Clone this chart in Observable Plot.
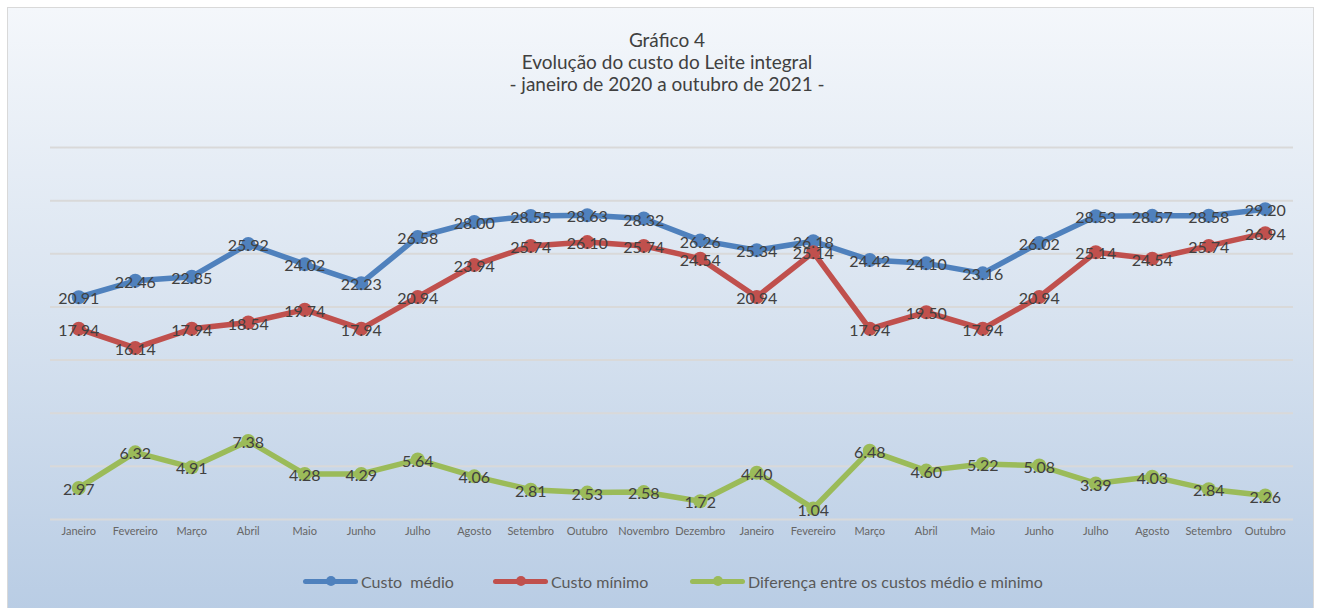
<!DOCTYPE html>
<html><head><meta charset="utf-8">
<script src="https://cdn.jsdelivr.net/npm/d3@7"></script>
<script src="https://cdn.jsdelivr.net/npm/@observablehq/plot@0.6"></script>
<style>
body{margin:0;background:#fff;}
#wrap{position:relative;width:1321px;height:608px;overflow:hidden;font-family:Lato,"Noto Sans",sans-serif;}
#frame{position:absolute;left:7px;top:7px;width:1305px;height:610px;border:1px solid #d9d9d9;background:linear-gradient(to bottom,#f4f7fb 0%,#dbe5f1 45%,#b8cce4 100%);}
#title{position:absolute;left:0;width:1334px;top:29px;text-align:center;color:#404040;font-size:19px;line-height:22px;}
#chart{position:absolute;left:0;top:0;}
#legend{position:absolute;top:570px;left:0;width:1321px;height:22px;}
.li{position:absolute;top:0;height:22px;display:flex;align-items:center;color:#595959;font-size:16px;white-space:pre;}
.sw{position:relative;width:55px;height:5px;border-radius:3px;margin-right:3px;}
.sw::after{content:"";position:absolute;left:23px;top:-2.5px;width:10px;height:10px;border-radius:50%;background:inherit;}
</style></head>
<body>
<div id="wrap">
  <div id="frame"></div>
  <div id="title">Gráfico 4<br>Evolução do custo do Leite integral<br>- janeiro de 2020 a outubro de 2021 -</div>
  <div id="chart"></div>
  <div id="legend"></div>
</div>
<script>
const months = ["Janeiro","Fevereiro","Março","Abril","Maio","Junho","Julho","Agosto","Setembro","Outubro","Novembro","Dezembro","Janeiro","Fevereiro","Março","Abril","Maio","Junho","Julho","Agosto","Setembro","Outubro"];
const custoMedio = [20.91,22.46,22.85,25.92,24.02,22.23,26.58,28.00,28.55,28.63,28.32,26.26,25.34,26.18,24.42,24.10,23.16,26.02,28.53,28.57,28.58,29.20];
const custoMinimo = [17.94,16.14,17.94,18.54,19.74,17.94,20.94,23.94,25.74,26.10,25.74,24.54,20.94,25.14,17.94,19.50,17.94,20.94,25.14,24.54,25.74,26.94];
const diferenca = [2.97,6.32,4.91,7.38,4.28,4.29,5.64,4.06,2.81,2.53,2.58,1.72,4.40,1.04,6.48,4.60,5.22,5.08,3.39,4.03,2.84,2.26];
const seriesNames = ["Custo  médio","Custo mínimo","Diferença entre os custos médio e minimo"];
const colors = ["#4f81bd","#c0504d","#9bbb59"];
const yTicks = [0,5,10,15,20,25,30,35];

const seriesValues = [custoMedio, custoMinimo, diferenca];
const data = [];
seriesValues.forEach((vals, s) => vals.forEach((v, i) => data.push({i, v, s: seriesNames[s]})));
const idx = months.map((_, i) => i);

const marks = [
  Plot.ruleY(yTicks, {stroke: "#d9d9d9", strokeWidth: 2})
];
seriesNames.forEach((name, s) => {
  const d = data.filter(r => r.s === name);
  marks.push(Plot.line(d, {x: "i", y: "v", stroke: colors[s], strokeWidth: 5.5, strokeLinejoin: "round"}));
  marks.push(Plot.dot(d, {x: "i", y: "v", fill: colors[s], r: 7, stroke: "none"}));
});
marks.push(Plot.text(data, {x: "i", y: "v", text: d => d.v.toFixed(2), fill: "#404040", fontSize: 16, dy: 2}));
marks.push(Plot.axisX(idx, {tickSize: 0, tickPadding: 8, fontSize: 11, tickFormat: i => months[i], color: "#666666", label: null}));

const chart = Plot.plot({
  width: 1321, height: 545,
  marginLeft: 50, marginRight: 28, marginTop: 147, marginBottom: 26,
  style: {background: "transparent", fontFamily: "Lato, 'Noto Sans', sans-serif", color: "#666666"},
  x: {type: "linear", domain: [-0.5, months.length - 0.5], axis: null, label: null},
  y: {domain: [0, 35], axis: null, label: null},
  marks
});
document.getElementById("chart").appendChild(chart);

const lefts = [303, 493, 690];
const legend = document.getElementById("legend");
seriesNames.forEach((name, s) => {
  const item = document.createElement("div");
  item.className = "li";
  item.style.left = lefts[s] + "px";
  const sw = document.createElement("span");
  sw.className = "sw";
  sw.style.background = colors[s];
  item.appendChild(sw);
  item.appendChild(document.createTextNode(name));
  legend.appendChild(item);
});
</script>
</body></html>
